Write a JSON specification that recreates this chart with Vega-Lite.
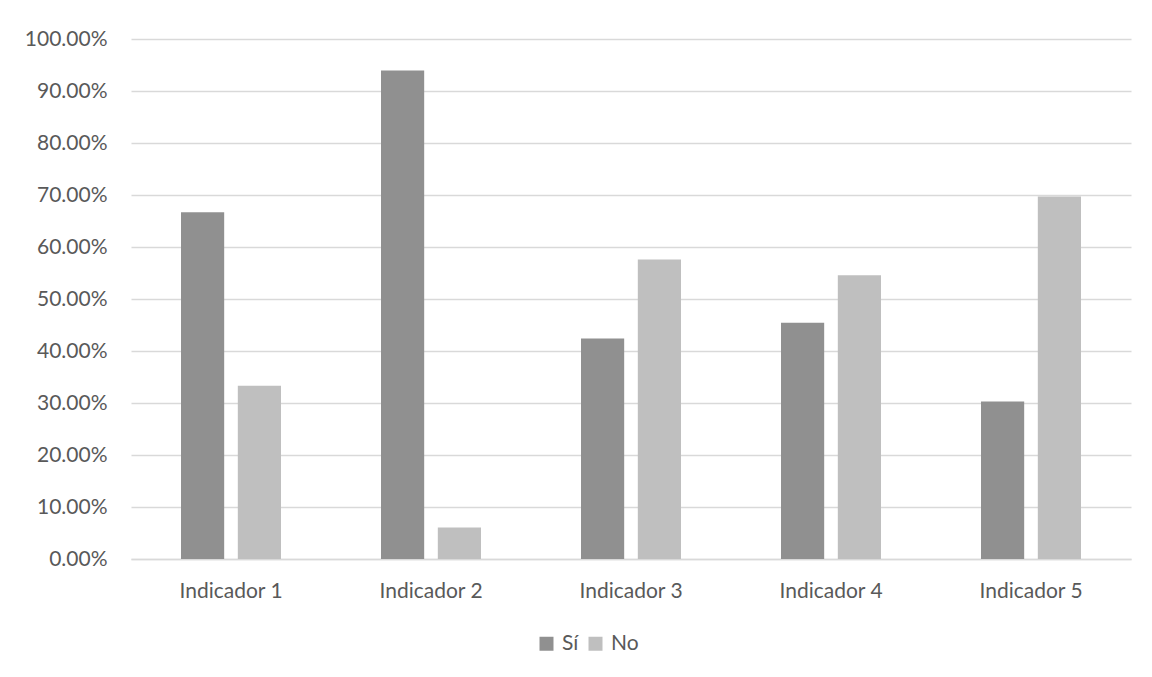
{
  "$schema": "https://vega.github.io/schema/vega-lite/v6.json",
  "autosize": {"type": "none"},
  "width": 1000,
  "height": 520,
  "padding": {"left": 131, "top": 39, "right": 21, "bottom": 118},
  "background": "white",
  "data": {"values": [
    {"indicador": "Indicador 1", "respuesta": "Sí", "valor": 0.6667},
    {"indicador": "Indicador 1", "respuesta": "No", "valor": 0.3333},
    {"indicador": "Indicador 2", "respuesta": "Sí", "valor": 0.9394},
    {"indicador": "Indicador 2", "respuesta": "No", "valor": 0.0606},
    {"indicador": "Indicador 3", "respuesta": "Sí", "valor": 0.4242},
    {"indicador": "Indicador 3", "respuesta": "No", "valor": 0.5758},
    {"indicador": "Indicador 4", "respuesta": "Sí", "valor": 0.4545},
    {"indicador": "Indicador 4", "respuesta": "No", "valor": 0.5455},
    {"indicador": "Indicador 5", "respuesta": "Sí", "valor": 0.3030},
    {"indicador": "Indicador 5", "respuesta": "No", "valor": 0.6970}
  ]},
  "mark": {"type": "bar"},
  "encoding": {
    "x": {
      "field": "indicador", "type": "nominal", "sort": null,
      "scale": {"paddingInner": 0.5, "paddingOuter": 0.25},
      "axis": {"title": null, "labelAngle": 0, "ticks": false, "domain": true, "domainColor": "#d9d9d9", "domainWidth": 1.5,
               "labelFont": "Lato", "labelFontSize": 21, "labelColor": "#595959", "labelPadding": 21}
    },
    "xOffset": {"field": "respuesta", "type": "nominal", "sort": ["Sí", "No"], "scale": {"paddingInner": 0.24, "paddingOuter": 0}},
    "y": {
      "field": "valor", "type": "quantitative",
      "scale": {"domain": [0, 1], "nice": false},
      "axis": {"title": null, "format": ".2%", "values": [0,0.1,0.2,0.3,0.4,0.5,0.6,0.7,0.8,0.9,1], "labelOverlap": false,
               "domain": false, "ticks": false, "grid": true, "gridColor": "#d9d9d9", "gridWidth": 1.5,
               "labelFont": "Lato", "labelFontSize": 21, "labelColor": "#595959", "labelPadding": 24}
    },
    "color": {
      "field": "respuesta", "type": "nominal", "sort": ["Sí", "No"],
      "scale": {"domain": ["Sí", "No"], "range": ["#909090", "#bfbfbf"]},
      "legend": {"title": null, "orient": "none", "direction": "horizontal", "legendX": 405, "legendY": 594,
                 "symbolType": "square", "symbolSize": 196, "symbolStrokeWidth": 0, "columnPadding": 6, "labelOffset": 5,
                 "labelFont": "Lato", "labelFontSize": 21, "labelColor": "#595959"}
    }
  },
  "config": {"view": {"stroke": null}}
}
